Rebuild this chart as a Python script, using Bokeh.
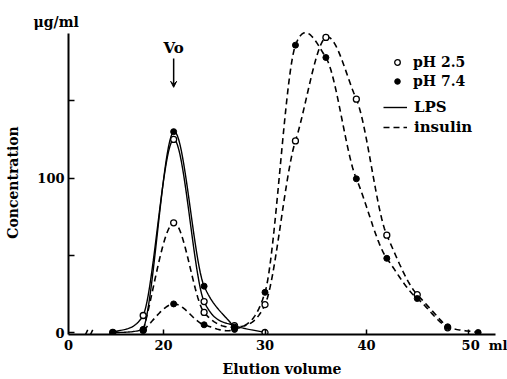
import numpy as np
from bokeh.plotting import figure
from bokeh.models import (Range1d, FixedTicker, Legend, LegendItem, Label, Arrow,
                          VeeHead, AllLabels)
from bokeh.embed import file_html
from bokeh.resources import INLINE

# ---------------- data ----------------
lps_x_25 = [15, 18, 21, 24, 27, 30]
lps_y_25 = [0, 11, 125, 20, 4.5, 0]
lps_x_74 = [15, 18, 21, 24, 27]
lps_y_74 = [0, 2, 130, 30, 3]
ins_x_25 = [18, 21, 24, 27, 30, 33, 36, 39, 42, 45, 48]
ins_y_25 = [1.5, 71, 13, 3.5, 18, 124, 191, 151, 63, 24.5, 3]
ins_x_74 = [18, 21, 24, 27, 30, 33, 36, 39, 42, 45, 48, 51]
ins_y_74 = [1.5, 18.5, 5, 2, 26, 186, 178, 99.5, 48, 22, 3.7, 0]

x_ticks = [20, 30, 40, 50]
x_tick_labels = ["20", "30", "40", "50"]
x_unit = "ml"
y_label_ticks = [0, 100]
y_minor_ticks = [50, 150]
VO = 21

# ---------------- layout constants ----------------
FONT = "DejaVu Serif"
PX_X = 10.15         # px per ml
PX_Y = 1.55          # px per ug/ml
X_START = 10.64      # left end of the (broken) axis, labelled "0"


def dx(px):
    return X_START + (px - 68) / PX_X


def dy(py):
    return (333 - py) / PX_Y


X_END = dx(495)
Y_START = dy(335)
Y_END = dy(30)
Y_AXIS_TOP = dy(33)
ZERO_TICK = round(X_START + 0.01, 2)
# the last tick label carries the unit: "50  ml", centred so that "50" sits under 50
LAST_POS = round(x_ticks[-1] + 23.0 / PX_X - 0.15, 2)


def smooth(xs, ys, n=24, k=0.7):
    xs = np.asarray(xs, float)
    ys = np.asarray(ys, float)
    m = np.zeros(len(xs))
    m[0] = (ys[1] - ys[0]) / (xs[1] - xs[0])
    m[-1] = (ys[-1] - ys[-2]) / (xs[-1] - xs[-2])
    m[1:-1] = k * (ys[2:] - ys[:-2]) / (xs[2:] - xs[:-2])
    ox, oy = [], []
    for i in range(len(xs) - 1):
        h = xs[i + 1] - xs[i]
        d = (ys[i + 1] - ys[i]) / h
        m0, m1 = m[i], m[i + 1]
        if d == 0:
            m0 = m1 = 0.0
        else:
            a, b = m0 / d, m1 / d
            if a >= 0 and b >= 0 and a * a + b * b > 9:
                t = 3 / np.sqrt(a * a + b * b)
                m0, m1 = t * a * d, t * b * d
        t = np.linspace(0, 1, n, endpoint=(i == len(xs) - 2))
        h00 = 2 * t**3 - 3 * t**2 + 1
        h10 = t**3 - 2 * t**2 + t
        h01 = -2 * t**3 + 3 * t**2
        h11 = t**3 - t**2
        y = h00 * ys[i] + h10 * h * m0 + h01 * ys[i + 1] + h11 * h * m1
        ox.extend(xs[i] + t * h)
        oy.extend(np.maximum(y, 0))
    return ox, oy


p = figure(width=507, height=379, x_range=Range1d(X_START, X_END),
           y_range=Range1d(Y_START, Y_END), output_backend="svg",
           toolbar_location=None, min_border_left=68, min_border_right=12,
           min_border_top=30, min_border_bottom=44, title="μg/ml")
p.outline_line_color = None
p.xgrid.visible = False
p.ygrid.visible = False

p.title.align = "left"
p.title.offset = -35
p.title.standoff = 2
p.title.text_font = FONT
p.title.text_font_style = "bold"
p.title.text_font_size = "14px"
p.title.text_color = "black"

# x axis: labels on major ticks (no marks), marks on minor ticks.
# invisible spacer labels sit between the real labels
real_pos = [ZERO_TICK] + x_ticks[:-1] + [LAST_POS]
real_txt = ["0"] + x_tick_labels[:-1] + [x_tick_labels[-1] + "\u2002\u2009" + x_unit]
label_ticks, label_texts = [], []
for i, (pos, txt) in enumerate(zip(real_pos, real_txt)):
    label_ticks.append(pos)
    label_texts.append(txt)
    if i < len(real_pos) - 1:
        label_ticks.append(round((pos + real_pos[i + 1]) / 2 + 0.003, 3))
        label_texts.append("\u00a0")
xa = p.xaxis[0]
xa.ticker = FixedTicker(ticks=label_ticks, minor_ticks=x_ticks)
xa.major_label_overrides = {v: s for v, s in zip(label_ticks, label_texts)}
xa.major_label_policy = AllLabels()
xa.major_tick_in = 0
xa.major_tick_out = 0
xa.minor_tick_in = 5
xa.minor_tick_out = 0
xa.minor_tick_line_color = "black"
xa.minor_tick_line_width = 1.5
xa.axis_line_width = 2
xa.major_label_standoff = 3
xa.major_label_text_font = FONT
xa.major_label_text_font_style = "bold"
xa.major_label_text_font_size = "13px"
xa.major_label_text_color = "black"
xa.axis_label = "Elution volume"
xa.axis_label_standoff = 5
xa.axis_label_text_font = FONT
xa.axis_label_text_font_style = "bold"
xa.axis_label_text_font_size = "14px"
xa.axis_label_text_color = "black"

# y axis: labelled ticks 0, 100; unlabelled marks at 50, 150
ya = p.yaxis[0]
ya.bounds = (Y_START, Y_AXIS_TOP)
ya.ticker = FixedTicker(ticks=y_label_ticks, minor_ticks=y_minor_ticks)
ya.major_label_policy = AllLabels()
ya.major_tick_in = 6
ya.major_tick_out = 0
ya.minor_tick_in = 6
ya.minor_tick_out = 0
ya.major_tick_line_width = 1.5
ya.minor_tick_line_width = 1.5
ya.minor_tick_line_color = "black"
ya.axis_line_width = 2
ya.major_label_standoff = 4
ya.major_label_text_font = FONT
ya.major_label_text_font_style = "bold"
ya.major_label_text_font_size = "13px"
ya.major_label_text_color = "black"
ya.axis_label = "Concentration"
ya.axis_label_standoff = 13
ya.axis_label_text_font = FONT
ya.axis_label_text_font_style = "bold"
ya.axis_label_text_font_size = "14px"
ya.axis_label_text_color = "black"

# axis break marks
for bx in [dx(85), dx(90)]:
    p.segment(x0=[bx - 0.22], y0=[Y_START - 3.0], x1=[bx + 0.22], y1=[Y_START + 3.0],
              line_color="black", line_width=1.5)

# curves
sx, sy = smooth(lps_x_25, lps_y_25)
r_lps = p.line(sx, sy, line_color="black", line_width=1.4)
sx, sy = smooth(lps_x_74, lps_y_74)
p.line(sx, sy, line_color="black", line_width=1.4)
sx, sy = smooth(ins_x_25, ins_y_25)
r_ins = p.line(sx, sy, line_color="black", line_width=1.6, line_dash="6 4")
sx, sy = smooth(ins_x_74, ins_y_74)
p.line(sx, sy, line_color="black", line_width=1.6, line_dash="6 4")

# points
r_open = p.scatter(lps_x_25, lps_y_25, marker="circle", size=6,
                   fill_color="white", line_color="black", line_width=1.3)
p.scatter(ins_x_25, ins_y_25, marker="circle", size=6,
          fill_color="white", line_color="black", line_width=1.3)
r_fill = p.scatter(lps_x_74, lps_y_74, marker="circle", size=6,
                   fill_color="black", line_color="black")
p.scatter(ins_x_74, ins_y_74, marker="circle", size=6,
          fill_color="black", line_color="black")

# legends (location = bottom-left corner, from frame's bottom-left)
leg1 = Legend(items=[LegendItem(label="pH 2.5", renderers=[r_open]),
                     LegendItem(label="pH 7.4", renderers=[r_fill])],
              location=(315, 335 - 90), glyph_width=28, glyph_height=14,
              label_height=14, spacing=3, label_standoff=2, padding=0, margin=0,
              border_line_color=None, background_fill_alpha=0,
              label_text_font=FONT, label_text_font_style="bold",
              label_text_font_size="14px", label_text_color="black")
leg2 = Legend(items=[LegendItem(label="LPS", renderers=[r_lps]),
                     LegendItem(label="insulin", renderers=[r_ins])],
              location=(315, 335 - 137), glyph_width=24, glyph_height=18,
              label_height=18, spacing=2, label_standoff=7, padding=0, margin=0,
              border_line_color=None, background_fill_alpha=0,
              label_text_font=FONT, label_text_font_style="bold",
              label_text_font_size="15px", label_text_color="black")
p.add_layout(leg1)
p.add_layout(leg2)

# Vo marker
p.add_layout(Label(x=VO, y=dy(48), text="Vo", text_align="center",
                   text_baseline="middle", text_font=FONT, text_font_style="bold",
                   text_font_size="15px", text_color="black"))
p.add_layout(Arrow(x_start=VO, y_start=dy(58), x_end=VO, y_end=dy(87),
                   line_color="black", line_width=1.5,
                   end=VeeHead(size=6, fill_color="black", line_color="black")))

open("out.html", "w").write(file_html(p, INLINE))
